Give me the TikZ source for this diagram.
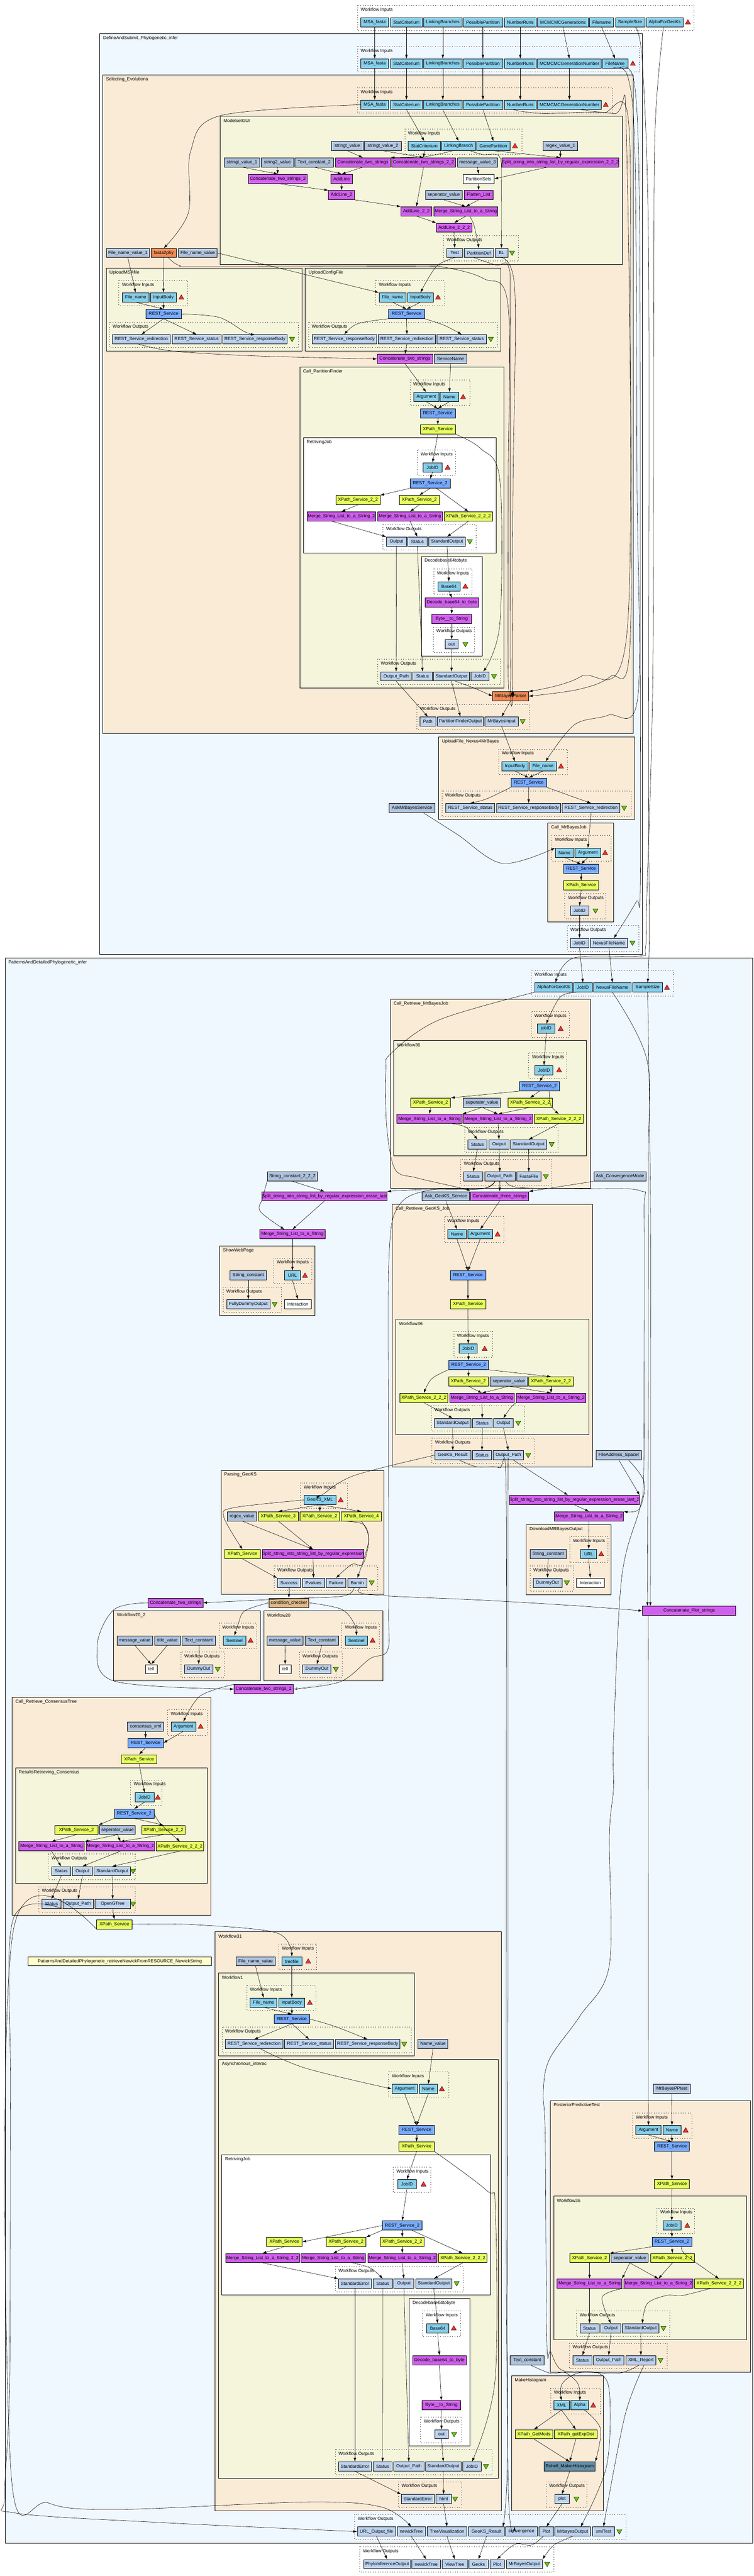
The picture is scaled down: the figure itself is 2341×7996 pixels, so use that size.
\documentclass[tikz,border=0pt]{standalone}
\usepackage{fontspec}
\setmainfont{Liberation Sans}
\usetikzlibrary{arrows.meta}
\definecolor{cwi}{HTML}{87CEEB}
\definecolor{cwo}{HTML}{BCD2EE}
\definecolor{crs}{HTML}{77AAFF}
\definecolor{cxp}{HTML}{E6FF5E}
\definecolor{cbs}{HTML}{D15FEE}
\definecolor{ccn}{HTML}{B0C4DE}
\definecolor{ctl}{HTML}{EE8A55}
\definecolor{ccc}{HTML}{DEB887}
\definecolor{crh}{HTML}{648FAA}
\definecolor{cly}{HTML}{FFFFCC}
\definecolor{cab}{HTML}{F0F8FF}
\definecolor{caw}{HTML}{FAEBD7}
\definecolor{cbe}{HTML}{F5F5DC}
\definecolor{tred}{HTML}{FF3030}
\definecolor{tgrn}{HTML}{66CD00}
\tikzset{
 wfbox/.style={draw=black,line width=1.2pt,inner sep=0pt,minimum height=28.5pt,font=\fontsize{14}{16}\selectfont,anchor=center},
 wi/.style={fill=cwi}, wo/.style={fill=cwo}, rs/.style={fill=crs}, xp/.style={fill=cxp},
 bs/.style={fill=cbs}, cn/.style={fill=ccn}, ws/.style={fill=white}, tl/.style={fill=ctl},
 cc/.style={fill=ccc}, rh/.style={fill=crh}, ly/.style={fill=cly},
 ttl/.style={anchor=west,inner sep=0pt,font=\fontsize{14}{16}\selectfont},
 clb/.style={draw=black,line width=1.2pt},
 pbx/.style={draw=black,line width=1.1pt,dash pattern=on 1.5pt off 6pt},
 e/.style={draw=black,line width=0.9pt,-{Latex[length=12pt,width=8pt]}},
 g/.style={draw=black!25,line width=1pt,-{Latex[length=10pt,width=7pt]}}
}
\newcounter{tk}
\newcommand{\nd}[6]{\pgfmathsetmacro\ndcx{(#2+#3)/2}\pgfmathsetmacro\ndw{#3-#2}\node[wfbox,#5,minimum width=\ndw pt] (#1) at (\ndcx,#4) {#6};}
\newcommand{\cl}[6]{\stepcounter{tk}\path[clb,fill=#5] (#1,#2) rectangle (#3,#4);\node[ttl] (tt\thetk) at (#1+10,#2+14) {#6};}
\newcommand{\pb}[5]{\stepcounter{tk}\path[pbx] (#1,#2) rectangle (#3,#4);\node[ttl] (tt\thetk) at (#1+10,#2+14) {#5};}
\newcommand{\tup}[2]{\filldraw[fill=tred,draw=black,line width=.8pt] (#1-8,#2+6) -- (#1+8,#2+6) -- (#1,#2-8) -- cycle;}
\newcommand{\tdn}[2]{\filldraw[fill=tgrn,draw=black,line width=.8pt] (#1-8,#2-6) -- (#1+8,#2-6) -- (#1,#2+8) -- cycle;}
\newcommand{\ed}[2]{\draw[e] (#1) -- (#2);}
\newcommand{\spl}[1]{\draw[e] plot[smooth,tension=.55] coordinates {#1};}
\begin{document}
\begin{tikzpicture}[x=1pt,y=-1pt]
\useasboundingbox (0,0) rectangle (2341,7996);
\fill[white] (0,0) rectangle (2341,7996);
% ---------- clusters
\pb{1110}{16}{2154}{95}{Workflow Inputs}
\cl{310}{105}{1994}{2962}{cab}{DefineAndSubmit\_Phylogenetic\_infer}
\pb{1110}{144}{1985}{223}{Workflow Inputs}
\cl{319}{233}{1966}{2276}{caw}{Selecting\_Evolutiona}
\pb{1110}{272}{1902}{350}{Workflow Inputs}
\cl{684}{361}{1933}{821}{cbe}{ModelsetGUI}
\pb{1257}{400}{1620}{478}{Workflow Inputs}
\pb{1377}{731}{1610}{810}{Workflow Outputs}
\cl{330}{832}{937}{1089}{cbe}{UploadMSAfile}
\pb{369}{870}{583}{949}{Workflow Inputs}
\pb{340}{1000}{927}{1079}{Workflow Outputs}
\cl{948}{832}{1555}{1089}{cbe}{UploadConfigFile}
\pb{1166}{870}{1381}{949}{Workflow Inputs}
\pb{958}{1000}{1545}{1079}{Workflow Outputs}
\cl{931}{1140}{1565}{2136}{cbe}{Call\_PartitionFinder}
\pb{1273}{1179}{1459}{1258}{Workflow Inputs}
\cl{942}{1358}{1541}{1717}{white}{RetrivingJob}
\pb{1296}{1397}{1414}{1476}{Workflow Inputs}
\pb{1189}{1628}{1478}{1707}{Workflow Outputs}
\cl{1308}{1727}{1497}{2036}{white}{Decodebase64tobyte}
\pb{1347}{1766}{1465}{1845}{Workflow Inputs}
\pb{1345}{1946}{1473}{2025}{Workflow Outputs}
\pb{1172}{2046}{1554}{2125}{Workflow Outputs}
\pb{1294}{2187}{1643}{2265}{Workflow Outputs}
\cl{1362}{2287}{1970}{2544}{caw}{UploadFile\_Nexus4MrBayes}
\pb{1548}{2325}{1762}{2404}{Workflow Inputs}
\pb{1372}{2455}{1960}{2534}{Workflow Outputs}
\cl{1701}{2554}{1906}{2862}{caw}{Call\_MrBayesJob}
\pb{1713}{2593}{1897}{2672}{Workflow Inputs}
\pb{1754}{2773}{1881}{2852}{Workflow Outputs}
\pb{1761}{2873}{1984}{2952}{Workflow Outputs}
\cl{16}{2973}{2337}{7894}{cab}{PatternsAndDetailedPhylogenetic\_infer}
\pb{1650}{3012}{2091}{3091}{Workflow Inputs}
\cl{1212}{3101}{1833}{3688}{caw}{Call\_Retrieve\_MrBayesJob}
\pb{1649}{3140}{1767}{3219}{Workflow Inputs}
\cl{1222}{3229}{1821}{3588}{cbe}{Workflow36}
\pb{1642}{3268}{1760}{3347}{Workflow Inputs}
\pb{1443}{3499}{1733}{3577}{Workflow Outputs}
\pb{1430}{3599}{1714}{3678}{Workflow Outputs}
\cl{682}{3867}{978}{4084}{caw}{ShowWebPage}
\pb{849}{3905}{968}{3984}{Workflow Inputs}
\pb{693}{3995}{873}{4074}{Workflow Outputs}
\cl{1218}{3738}{1839}{4553}{caw}{Call\_Retrieve\_GeoKS\_Job}
\pb{1379}{3777}{1565}{3856}{Workflow Inputs}
\cl{1229}{4095}{1829}{4453}{cbe}{Workflow36}
\pb{1409}{4133}{1529}{4212}{Workflow Inputs}
\pb{1339}{4363}{1628}{4442}{Workflow Outputs}
\pb{1341}{4464}{1660}{4543}{Workflow Outputs}
\cl{1634}{4732}{1898}{4950}{caw}{DownloadMRBayesOutput}
\pb{1769}{4770}{1888}{4849}{Workflow Inputs}
\pb{1646}{4860}{1781}{4939}{Workflow Outputs}
\cl{686}{4564}{1192}{4949}{caw}{Parsing\_GeoKS}
\pb{933}{4603}{1078}{4682}{Workflow Inputs}
\pb{851}{4860}{1173}{4938}{Workflow Outputs}
\cl{353}{5000}{808}{5217}{caw}{Workflow20\_2}
\pb{680}{5038}{797}{5117}{Workflow Inputs}
\pb{562}{5128}{696}{5207}{Workflow Outputs}
\cl{819}{5000}{1189}{5217}{caw}{Workflow20}
\pb{1061}{5038}{1178}{5117}{Workflow Inputs}
\pb{929}{5128}{1063}{5207}{Workflow Outputs}
\cl{38}{5268}{654}{5945}{caw}{Call\_Retrieve\_ConsensusTree}
\pb{520}{5307}{643}{5386}{Workflow Inputs}
\cl{48}{5487}{644}{5845}{cbe}{ResultsRetrieving\_Consensus}
\pb{405}{5525}{502}{5604}{Workflow Inputs}
\pb{150}{5755}{420}{5834}{Workflow Outputs}
\pb{120}{5856}{420}{5935}{Workflow Outputs}
\cl{668}{5996}{1556}{7793}{caw}{Workflow31}
\pb{865}{6034}{982}{6113}{Workflow Inputs}
\cl{679}{6124}{1286}{6381}{cbe}{Workflow1}
\pb{766}{6162}{981}{6241}{Workflow Inputs}
\pb{689}{6292}{1277}{6371}{Workflow Outputs}
\cl{679}{6392}{1547}{7693}{cbe}{Asynchronous\_interac}
\pb{1207}{6431}{1393}{6509}{Workflow Inputs}
\cl{689}{6688}{1523}{7124}{white}{RetrivingJob}
\pb{1221}{6727}{1338}{6805}{Workflow Inputs}
\pb{1041}{7035}{1439}{7113}{Workflow Outputs}
\cl{1271}{7134}{1459}{7592}{white}{Decodebase64tobyte}
\pb{1312}{7173}{1431}{7253}{Workflow Inputs}
\pb{1306}{7502}{1434}{7582}{Workflow Outputs}
\pb{1041}{7603}{1527}{7682}{Workflow Outputs}
\pb{1237}{7703}{1434}{7783}{Workflow Outputs}
\cl{1709}{6520}{2330}{7363}{caw}{PosteriorPredictiveTest}
\pb{1964}{6559}{2149}{6637}{Workflow Inputs}
\cl{1719}{6816}{2318}{7262}{cbe}{Workflow36}
\pb{2040}{6854}{2156}{6933}{Workflow Inputs}
\pb{1790}{7173}{2080}{7253}{Workflow Outputs}
\pb{1768}{7273}{2071}{7352}{Workflow Outputs}
\cl{1588}{7374}{1873}{7793}{caw}{MakeHistogram}
\pb{1710}{7413}{1864}{7492}{Workflow Inputs}
\pb{1695}{7703}{1822}{7783}{Workflow Outputs}
\pb{1101}{7804}{1944}{7883}{Workflow Outputs}
\pb{1117}{7905}{1719}{7984}{Workflow Outputs}
% ---------- top inputs
\nd{ta}{1120}{1207}{69}{wi}{MSA\_fasta}\nd{tb}{1212}{1312}{69}{wi}{StatCriterium}\nd{tc}{1315}{1435}{69}{wi}{LinkingBranches}\nd{td}{1438}{1561}{69}{wi}{PossiblePartition}\nd{te}{1566}{1665}{69}{wi}{NumberRuns}\nd{tf}{1669}{1827}{69}{wi}{MCMCMCGenerations}\nd{tg}{1830}{1906}{69}{wi}{Filename}\nd{th}{1911}{2002}{69}{wi}{SampleSize}\nd{ti}{2007}{2121}{69}{wi}{AlphaForGeoKs}\tup{2136}{69}
\nd{da}{1120}{1207}{197}{wi}{MSA\_fasta}\nd{db}{1212}{1312}{197}{wi}{StatCriterium}\nd{dc}{1315}{1435}{197}{wi}{LinkingBranches}\nd{dd}{1438}{1561}{197}{wi}{PossiblePartition}\nd{de}{1566}{1665}{197}{wi}{NumberRuns}\nd{df}{1669}{1867}{197}{wi}{MCMCMCGenerationNumber}\nd{dg}{1870}{1950}{197}{wi}{FileName}\tup{1965}{197}
\nd{sa}{1120}{1207}{325}{wi}{MSA\_fasta}\nd{sb}{1212}{1312}{325}{wi}{StatCriterium}\nd{sc}{1315}{1435}{325}{wi}{LinkingBranches}\nd{sd}{1438}{1561}{325}{wi}{PossiblePartition}\nd{se}{1566}{1665}{325}{wi}{NumberRuns}\nd{sf}{1669}{1867}{325}{wi}{MCMCMCGenerationNumber}\tup{1881}{325}
% ModelsetGUI
\nd{ma}{1267}{1368}{453}{wi}{StatCriterium}\nd{mb}{1371}{1477}{453}{wi}{LinkingBranch}\nd{mc}{1480}{1584}{453}{wi}{GenePartition}\tup{1599}{453}
\nd{md}{1029}{1128}{453}{cn}{stringt\_value}\nd{me}{1132}{1246}{453}{cn}{stringt\_value\_2}\nd{mf}{1686}{1794}{453}{cn}{regex\_value\_1}
\nd{mg}{696}{807}{504}{cn}{stringt\_value\_1}\nd{mh}{811}{912}{504}{cn}{string2\_value}\nd{mi}{916}{1035}{504}{cn}{Text\_constant\_2}\nd{mj}{1041}{1212}{504}{bs}{Concatenate\_two\_strings}\nd{mk}{1216}{1414}{504}{bs}{Concatenate\_two\_strings\_2\_2}\nd{ml}{1420}{1546}{504}{cn}{message\_value\_3}\nd{mm}{1560}{1920}{504}{bs}{Split\_string\_into\_string\_list\_by\_regular\_expression\_2\_2\_2}
\nd{mn}{771}{954}{555}{bs}{Concatenate\_two\_strings\_2}\nd{mo}{1027}{1095}{555}{bs}{AddLine}\nd{mp}{1438}{1534}{555}{ws}{PartitionSets}
\nd{mq}{1020}{1101}{605.5}{bs}{AddLine\_2}\nd{mr}{1321}{1435}{605.5}{cn}{seperator\_value}\nd{ms}{1441}{1531}{605.5}{bs}{Flatten\_List}
\nd{mt}{1245}{1341}{656}{bs}{AddLine\_2\_2}\nd{mu}{1347}{1546}{656}{bs}{Merge\_String\_List\_to\_a\_String}
\nd{mv}{1355}{1465}{706.5}{bs}{AddLine\_2\_2\_2}
\nd{mw}{1387}{1437}{785}{wo}{Test}\nd{mx}{1441}{1533}{785}{wo}{PartitionDef}\nd{my}{1537}{1577}{785}{wo}{BL}\tdn{1590}{785}
\nd{fa}{330}{464}{785}{cn}{File\_name\_value\_1}\nd{fb}{469}{548}{785}{tl}{fasta2phy}\nd{fc}{554}{674}{785}{cn}{File\_name\_value}
% Upload MSA
\nd{ua}{380}{462}{923}{wi}{File\_name}\nd{ub}{467}{548}{923}{wi}{InputBody}\tup{563}{923}
\nd{uc}{453}{563}{974.5}{rs}{REST\_Service}
\nd{ud}{350}{528}{1053}{wo}{REST\_Service\_redirection}\nd{ue}{534}{687}{1053}{wo}{REST\_Service\_status}\nd{uf}{692}{891}{1053}{wo}{REST\_Service\_responseBody}\tdn{907}{1053}
\nd{va}{1177}{1260}{923}{wi}{File\_name}\nd{vb}{1265}{1346}{923}{wi}{InputBody}\tup{1360}{923}
\nd{vc}{1207}{1318}{974.5}{rs}{REST\_Service}
\nd{vd}{969}{1169}{1053}{wo}{REST\_Service\_responseBody}\nd{ve}{1175}{1352}{1053}{wo}{REST\_Service\_redirection}\nd{vf}{1357}{1510}{1053}{wo}{REST\_Service\_status}\tdn{1524}{1053}
\nd{wa}{1171}{1344}{1114}{bs}{Concatenate\_two\_strings}\nd{wb}{1348}{1450}{1114}{cn}{ServiceName}
% Call_PartitionFinder
\nd{pa}{1284}{1363}{1232}{wi}{Argument}\nd{pb}{1367}{1424}{1232}{wi}{Name}\tup{1438}{1232}
\nd{pc}{1305}{1414}{1283}{rs}{REST\_Service}\nd{pd}{1305}{1414}{1333}{xp}{XPath\_Service}
\nd{ra}{1314}{1372}{1451}{wi}{JobID}\tup{1390}{1451}
\nd{rb}{1273}{1398}{1501}{rs}{REST\_Service\_2}
\nd{rc}{1043}{1180}{1552}{xp}{XPath\_Service\_2\_2}\nd{rd}{1240}{1364}{1552}{xp}{XPath\_Service\_2}
\nd{re}{953}{1167}{1603}{bs}{Merge\_String\_List\_to\_a\_String\_2}\nd{rf}{1172}{1374}{1603}{bs}{Merge\_String\_List\_to\_a\_String}\nd{rg}{1379}{1530}{1603}{xp}{XPath\_Service\_2\_2\_2}
\nd{rh}{1200}{1262}{1681}{wo}{Output}\nd{ri}{1266}{1326}{1681}{wo}{Status}\nd{rj}{1331}{1445}{1681}{wo}{StandardOutput}\tdn{1459}{1681}
\nd{xa}{1360}{1428}{1820}{wi}{Base64}\tup{1445}{1820}
\nd{xb}{1320}{1486}{1870.5}{bs}{Decode\_base64\_to\_byte}\nd{xc}{1341}{1464}{1921}{bs}{Byte\_\_to\_String}
\nd{xd}{1382}{1423}{2000}{wo}{out}\tdn{1445}{2000}
\nd{pe}{1183}{1277}{2099.5}{wo}{Output\_Path}\nd{pf}{1282}{1342}{2099.5}{wo}{Status}\nd{pg}{1346}{1458}{2099.5}{wo}{StandardOutput}\nd{ph}{1462}{1519}{2099.5}{wo}{JobID}\tdn{1534}{2099.5}
\nd{qa}{1530}{1641}{2161}{tl}{MrBayesParser}
\nd{qb}{1304}{1353}{2239.5}{wo}{Path}\nd{qc}{1358}{1501}{2239.5}{wo}{PartitionFinderOutput}\nd{qd}{1506}{1609}{2239.5}{wo}{MrBayesInput}\tdn{1623}{2239.5}
% UploadFile_Nexus
\nd{na}{1559}{1639}{2378.5}{wi}{InputBody}\nd{nb}{1644}{1728}{2378.5}{wi}{File\_name}\tup{1742}{2378.5}
\nd{nc}{1587}{1697}{2429}{rs}{REST\_Service}
\nd{nd}{1384}{1536}{2508}{wo}{REST\_Service\_status}\nd{ne}{1542}{1741}{2508}{wo}{REST\_Service\_responseBody}\nd{nf}{1746}{1925}{2508}{wo}{REST\_Service\_redirection}\tdn{1938}{2508}
\nd{ng}{1208}{1351}{2508}{cn}{AskMrBayesService}
\nd{ja}{1724}{1782}{2647}{wi}{Name}\nd{jb}{1786}{1865}{2647}{wi}{Argument}\tup{1879}{2647}
\nd{jc}{1750}{1859}{2697}{rs}{REST\_Service}\nd{jd}{1750}{1859}{2748}{xp}{XPath\_Service}
\nd{je}{1771}{1828}{2827}{wo}{JobID}\tdn{1849}{2827}
\nd{oa}{1771}{1828}{2927}{wo}{JobID}\nd{ob}{1833}{1949}{2927}{wo}{NexusFileName}\tdn{1964}{2927}
% second top cluster
\nd{ia}{1661}{1777}{3065}{wi}{AlphaForGeoKS}\nd{ib}{1781}{1839}{3065}{wi}{JobID}\nd{ic}{1843}{1960}{3065}{wi}{NexusFileName}\nd{id}{1965}{2057}{3065}{wi}{SampleSize}\tup{2071}{3065}
\nd{ka}{1669}{1723}{3193}{wi}{jobID}\tup{1741}{3193}
\nd{kb}{1661}{1717}{3321.5}{wi}{JobID}\tup{1736}{3321.5}
\nd{kc}{1613}{1737}{3372}{rs}{REST\_Service\_2}
\nd{kd}{1275}{1399}{3422.5}{xp}{XPath\_Service\_2}\nd{ke}{1439}{1554}{3422.5}{cn}{seperator\_value}\nd{kf}{1577}{1715}{3422.5}{xp}{XPath\_Service\_2\_2}
\nd{kg}{1232}{1435}{3473}{bs}{Merge\_String\_List\_to\_a\_String}\nd{kh}{1439}{1654}{3473}{bs}{Merge\_String\_List\_to\_a\_String\_2}\nd{ki}{1659}{1811}{3473}{xp}{XPath\_Service\_2\_2\_2}
\nd{kj}{1453}{1512}{3552}{wo}{Status}\nd{kk}{1518}{1581}{3552}{wo}{Output}\nd{kl}{1585}{1698}{3552}{wo}{StandardOutput}\tdn{1713}{3552}
\nd{km}{1440}{1499}{3652}{wo}{Status}\nd{kn}{1505}{1599}{3652}{wo}{Output\_Path}\nd{ko}{1604}{1680}{3652}{wo}{FastaFile}\tdn{1695}{3652}
\nd{la}{830}{986}{3652}{cn}{String\_constant\_2\_2\_2}\nd{lb}{1844}{2006}{3652}{cn}{Ask\_ConvergenceMode}
\nd{lc}{815}{1200}{3713}{bs}{Split\_string\_into\_string\_list\_by\_regular\_expression\_erase\_last}\nd{ld}{1311}{1458}{3713}{cn}{Ask\_GeoKS\_Service}\nd{le}{1461}{1642}{3713}{bs}{Concatenate\_three\_strings}
\nd{lf}{807}{1009}{3831}{bs}{Merge\_String\_List\_to\_a\_String}
\nd{lg}{883}{933}{3959}{wi}{URL}\tup{947}{3959}\nd{lh}{714}{828}{3959}{cn}{String\_constant}
\nd{li}{704}{838}{4048}{wo}{FullyDummyOutput}\tdn{853}{4048}\nd{lj}{883}{967}{4048}{ws}{Interaction}
% GeoKS job
\nd{ga}{1390}{1448}{3831}{wi}{Name}\nd{gb}{1452}{1530}{3831}{wi}{Argument}\tup{1545}{3831}
\nd{gc}{1398}{1508}{3959}{rs}{REST\_Service}\nd{gd}{1398}{1508}{4048}{xp}{XPath\_Service}
\nd{ge}{1426}{1482}{4186}{wi}{JobID}\tup{1505}{4186}
\nd{gf}{1393}{1517}{4237}{rs}{REST\_Service\_2}
\nd{gg}{1393}{1516}{4288}{xp}{XPath\_Service\_2}\nd{gh}{1522}{1638}{4288}{cn}{seperator\_value}\nd{gi}{1642}{1780}{4288}{xp}{XPath\_Service\_2\_2}
\nd{gj}{1241}{1391}{4339}{xp}{XPath\_Service\_2\_2\_2}\nd{gk}{1396}{1597}{4339}{bs}{Merge\_String\_List\_to\_a\_String}\nd{gl}{1603}{1819}{4339}{bs}{Merge\_String\_List\_to\_a\_String\_2}
\nd{gm}{1349}{1462}{4417}{wo}{StandardOutput}\nd{gn}{1467}{1528}{4417}{wo}{Status}\nd{go}{1532}{1594}{4417}{wo}{Output}\tdn{1609}{4417}
\nd{gp}{1350}{1462}{4517}{wo}{GeoKS\_Result}\nd{gq}{1467}{1526}{4517}{wo}{Status}\nd{gr}{1531}{1626}{4517}{wo}{Output\_Path}\tdn{1640}{4517}
\nd{hs}{1851}{1992}{4517}{cn}{FileAddress\_Spacer}
\nd{ht}{1584}{1983}{4656}{bs}{Split\_string\_into\_string\_list\_by\_regular\_expression\_erase\_last\_2}
\nd{hu}{1722}{1936}{4706.5}{bs}{Merge\_String\_List\_to\_a\_String\_2}
\nd{hv}{1803}{1853}{4823.5}{wi}{URL}\tup{1867}{4823.5}\nd{hw}{1646}{1758}{4823.5}{cn}{String\_constant}
\nd{hx}{1655}{1745}{4913}{wo}{DummyOut}\tdn{1760}{4913}\nd{hy}{1790}{1876}{4913}{ws}{Interaction}
\nd{hz}{1995}{2285}{5000}{bs}{Concatenate\_Plot\_strings}
% Parsing GeoKS
\nd{ba}{944}{1043}{4656}{wi}{GeoKS\_XML}\tup{1058}{4656}
\nd{bb}{706}{797}{4706.5}{cn}{regex\_value}\nd{bc}{802}{926}{4706.5}{xp}{XPath\_Service\_3}\nd{bd}{931}{1055}{4706.5}{xp}{XPath\_Service\_2}\nd{be}{1060}{1184}{4706.5}{xp}{XPath\_Service\_4}
\nd{bf}{698}{808}{4824}{xp}{XPath\_Service}\nd{bg}{814}{1130}{4824}{bs}{Split\_string\_into\_string\_list\_by\_regular\_expression}
\nd{bh}{861}{933}{4913}{wo}{Success}\nd{bi}{939}{1008}{4913}{wo}{Pvalues}\nd{bj}{1013}{1074}{4913}{wo}{Failure}\nd{bk}{1080}{1139}{4913}{wo}{Burnin}\tdn{1154}{4913}
\nd{bl}{460}{630}{4975}{bs}{Concatenate\_two\_strings}\nd{bm}{835}{959}{4975}{cc}{condition\_checker}
% Workflow20
\nd{ya}{693}{763}{5092}{wi}{Sentinel}\tup{778}{5092}\nd{yb}{363}{474}{5092}{cn}{message\_value}\nd{yc}{480}{560}{5092}{cn}{title\_value}\nd{yd}{565}{669}{5092}{cn}{Text\_constant}
\nd{ye}{573}{661}{5181}{wo}{DummyOut}\tdn{676}{5181}\nd{yf}{451}{488}{5181}{ws}{tell}
\nd{za}{1072}{1141}{5092}{wi}{Sentinel}\tup{1157}{5092}\nd{zb}{829}{941}{5092}{cn}{message\_value}\nd{zc}{947}{1051}{5092}{cn}{Text\_constant}
\nd{zd}{940}{1028}{5181}{wo}{DummyOut}\tdn{1043}{5181}\nd{ze}{867}{904}{5181}{ws}{tell}
\nd{zf}{727}{910}{5243}{bs}{Concatenate\_two\_strings\_2}
\coordinate (zg) at (1043,5190);
% Consensus
\nd{ca}{396}{508}{5359}{cn}{consensus\_xml}\nd{cb}{531}{608}{5359}{wi}{Argument}\tup{623}{5359}
\nd{cc}{397}{507}{5410}{rs}{REST\_Service}\nd{cd}{377}{487}{5461}{xp}{XPath\_Service}
\nd{ce}{420}{478}{5579}{wi}{JobID}\tup{490}{5579}
\nd{cf}{355}{478}{5629.5}{rs}{REST\_Service\_2}
\nd{cg}{170}{305}{5680}{xp}{XPath\_Service\_2}\nd{ch}{310}{420}{5680}{cn}{seperator\_value}\nd{ci}{440}{575}{5680}{xp}{XPath\_Service\_2\_2}
\nd{cj}{58}{262}{5731}{bs}{Merge\_String\_List\_to\_a\_String}\nd{ck}{268}{480}{5731}{bs}{Merge\_String\_List\_to\_a\_String\_2}\nd{cl}{485}{633}{5731}{xp}{XPath\_Service\_2\_2\_2}
\nd{cm}{160}{220}{5808}{wo}{Status}\nd{cn}{225}{287}{5808}{wo}{Output}\nd{co}{292}{405}{5808}{wo}{StandardOutput}\tdn{413}{5808}
\nd{cp}{130}{190}{5910}{wo}{Status}\nd{cq}{195}{290}{5910}{wo}{Output\_Path}\nd{cr}{295}{405}{5910}{wo}{OpenGTree}\tdn{413}{5910}
\nd{cs}{300}{410}{5973}{xp}{XPath\_Service}
\nd{ct}{87}{657}{6088}{ly}{PatternsAndDetailedPhylogenetic\_retrieveNewickFromRESOURCE\_NewickString}
% Workflow31
\nd{aa}{875}{937}{6088}{wi}{treefile}\tup{957}{6088}\nd{ab}{733}{854}{6088}{cn}{File\_name\_value}
\nd{ac}{777}{860}{6216}{wi}{File\_name}\nd{ad}{866}{946}{6216}{wi}{inputBody}\tup{962}{6216}
\nd{ae}{852}{961}{6267}{rs}{REST\_Service}
\nd{af}{700}{878}{6345}{wo}{REST\_Service\_redirection}\nd{ag}{884}{1036}{6345}{wo}{REST\_Service\_status}\nd{ah}{1042}{1241}{6345}{wo}{REST\_Service\_responseBody}\tdn{1255}{6345}
\nd{ai}{1298}{1391}{6345}{cn}{Name\_value}
\nd{aj}{1217}{1296}{6484}{wi}{Argument}\nd{ak}{1302}{1358}{6484}{wi}{Name}\tup{1372}{6484}
\nd{al}{1239}{1348}{6612}{rs}{REST\_Service}\nd{am}{1239}{1348}{6663}{xp}{XPath\_Service}
\nd{an}{1235}{1292}{6780}{wi}{JobID}\tup{1315}{6780}
\nd{ao}{1187}{1311}{6908}{rs}{REST\_Service\_2}
\nd{ap}{828}{938}{6959}{xp}{XPath\_Service}\nd{aq}{1013}{1136}{6959}{xp}{XPath\_Service\_2}\nd{ar}{1181}{1317}{6959}{xp}{XPath\_Service\_2\_2}
\nd{as}{701}{929}{7009}{bs}{Merge\_String\_List\_to\_a\_String\_2\_2}\nd{at}{934}{1135}{7009}{bs}{Merge\_String\_List\_to\_a\_String}\nd{au}{1142}{1356}{7009}{bs}{Merge\_String\_List\_to\_a\_String\_2}\nd{av}{1362}{1512}{7009}{xp}{XPath\_Service\_2\_2\_2}
\nd{aw}{1051}{1153}{7088}{wo}{StandardError}\nd{ax}{1158}{1219}{7088}{wo}{Status}\nd{ay}{1223}{1285}{7088}{wo}{Output}\nd{az}{1291}{1403}{7088}{wo}{StandardOutput}\tdn{1418}{7088}
\nd{ea}{1325}{1393}{7227}{wi}{Base64}\tup{1409}{7227}
\nd{eb}{1281}{1448}{7326}{bs}{Decode\_base64\_to\_byte}\nd{ec}{1310}{1431}{7466}{bs}{Byte\_\_to\_String}
\nd{ed}{1350}{1392}{7556}{wo}{out}\tdn{1410}{7556}
\nd{ee}{1051}{1153}{7656}{wo}{StandardError}\nd{ef}{1158}{1218}{7656}{wo}{Status}\nd{eg}{1222}{1317}{7656}{wo}{Output\_Path}\nd{eh}{1321}{1432}{7656}{wo}{StandardOutput}\nd{ei}{1437}{1494}{7656}{wo}{JobID}\tdn{1509}{7656}
\nd{ej}{1246}{1348}{7757}{wo}{StandardError}\nd{ek}{1354}{1401}{7757}{wo}{html}\tdn{1413}{7757}
% Posterior predictive
\nd{sg}{2028}{2144}{6484}{cn}{MrBayesPPtest}
\nd{si}{1974}{2053}{6612}{wi}{Argument}\nd{sj}{2058}{2115}{6612}{wi}{Name}\tup{2129}{6612}
\nd{sk}{2032}{2141}{6663}{rs}{REST\_Service}\nd{sl}{2032}{2141}{6780}{xp}{XPath\_Service}
\nd{sm}{2058}{2114}{6908}{wi}{JobID}\tup{2134}{6908}
\nd{sn}{2025}{2148}{6959}{rs}{REST\_Service\_2}
\nd{so}{1769}{1892}{7009}{xp}{XPath\_Service\_2}\nd{sp}{1898}{2013}{7009}{cn}{seperator\_value}\nd{sq}{2020}{2156}{7009}{xp}{XPath\_Service\_2\_2}
\nd{sr}{1730}{1931}{7088}{bs}{Merge\_String\_List\_to\_a\_String}\nd{ss}{1937}{2152}{7088}{bs}{Merge\_String\_List\_to\_a\_String\_2}\nd{st}{2157}{2308}{7088}{xp}{XPath\_Service\_2\_2\_2}
\nd{su}{1801}{1860}{7227}{wo}{Status}\nd{sv}{1866}{1928}{7227}{wo}{Output}\nd{sw}{1933}{2046}{7227}{wo}{StandardOutput}\tdn{2060}{7227}
\nd{sx}{1779}{1838}{7326}{wo}{Status}\nd{sy}{1843}{1937}{7326}{wo}{Output\_Path}\nd{sz}{1943}{2037}{7326}{wo}{XML\_Report}\tdn{2051}{7326}
\nd{ha}{1584}{1690}{7326}{cn}{Text\_constant}
\nd{hb}{1719}{1768}{7466}{wi}{XML}\nd{hc}{1773}{1827}{7466}{wi}{Alpha}\tup{1842}{7466}
\nd{hd}{1599}{1717}{7556}{xp}{XPath\_GetMods}\nd{he}{1722}{1854}{7556}{xp}{XPath\_getExpDist}
\nd{hf}{1690}{1848}{7656}{rh}{Rshell\_Make-Histogram}
\nd{hg}{1723}{1767}{7757}{wo}{plot}\tdn{1790}{7757}
% final outputs
\nd{oc}{1110}{1228}{7858}{wo}{URL\_Output\_file}\nd{od}{1233}{1321}{7858}{wo}{newickTree}\nd{oe}{1326}{1450}{7858}{wo}{TreeVisualization}\nd{of}{1455}{1566}{7858}{wo}{GeoKS\_Result}\nd{og}{1570}{1668}{7858}{wo}{convergence}\nd{oh}{1674}{1719}{7858}{wo}{Plot}\nd{oi}{1723}{1833}{7858}{wo}{MrbayesOutput}\nd{oj}{1839}{1909}{7858}{wo}{xmlTest}\tdn{1923}{7858}
\nd{fi}{1129}{1275}{7959}{wo}{PhyloInferenceOutput}\nd{fj}{1279}{1368}{7959}{wo}{newickTree}\nd{fk}{1372}{1452}{7959}{wo}{ViewTree}\nd{fl}{1456}{1516}{7959}{wo}{Geoks}\nd{fm}{1521}{1566}{7959}{wo}{Plot}\nd{fn}{1572}{1684}{7959}{wo}{MrBayesOutput}\tdn{1699}{7959}
% ---------- edges
\ed{ta.south}{da.north}\ed{tb.south}{db.north}\ed{tc.south}{dc.north}\ed{td.south}{dd.north}\ed{te.south}{de.north}\ed{tf.south}{df.north}\ed{tg.south}{dg.north}
\ed{da.south}{sa.north}\ed{db.south}{sb.north}\ed{dc.south}{sc.north}\ed{dd.south}{sd.north}\ed{de.south}{se.north}\ed{df.south}{sf.north}
\spl{([xshift=16pt]th.south) (1995,200) (2014,800) (2014,2400) (2016,2900) (id.north)}
\spl{([xshift=-4pt]ti.south) (2034,400) (2030,1000) (2027,2100) (2008,2800) (2004,2945) (1984,2968) (1780,2974) ([xshift=6pt]ia.north)}
\spl{([xshift=-8pt]dg.south) (1950,240) (1972,500) (1978,1500) (1980,2167) (1888,2220) (1783,2250) ([xshift=8pt]nb.north)}
\spl{([xshift=12pt]dg.south) (1970,260) (1986,700) (1988,2000) (1988,2756) (1975,2800) ([xshift=15pt]ob.north)}
\spl{(sa.west) (684,359) (592,469) (585,660) (fb.north)}
\spl{([xshift=-25pt]se.south) (1680,352) (1905,353) (1945,420) (1948,1950) (1803,2100) (qa.north east)}
\spl{([xshift=30pt]sf.south) (1875,350) (1950,362) (1957,1000) (1956,2003) (1895,2100) (1796,2140) (qa.east)}
\ed{sb.south}{ma.north}\ed{sc.south}{mb.north}\ed{sd.south}{mc.north}
\ed{md.south}{mj.north}\ed{me.south}{mk.north}\ed{ma.south}{mk.north}
\spl{([xshift=-18pt]mb.south) (1320,486) (mj.north east)}
\spl{([xshift=35pt]mb.south) (1500,480) (1552,488) (1557,600) (my.north)}
\ed{mc.south}{mm.north}\ed{mf.south}{mm.north}
\ed{mg.south}{mn.north}\ed{mh.south}{mn.north}\ed{mi.south}{mo.north}\ed{mj.south}{mo.north}
\ed{ml.south}{mp.north}\draw[e] ([xshift=-40pt]mm.south) -- (mp.east);
\ed{mn.south}{mq.north west}\ed{mo.south}{mq.north}\ed{mp.south}{ms.north}
\ed{mq.south east}{mt.north west}\ed{mk.south}{mt.north}\ed{mr.south}{mu.north}\ed{ms.south}{mu.north}
\ed{mt.south}{mv.north west}\ed{mu.south}{mv.north}
\spl{([xshift=12pt]mu.south) (1472,700) (mx.north)}
\ed{mv.south}{mw.north}
\ed{fa.south}{ua.north}\ed{fb.south}{ub.north}\draw[e] (fc.east) -- (va.north west);
\spl{(mw.south) (1355,827) (vb.north)}
\spl{([xshift=14pt]fb.south) (557,824) (628,827) (1284,826) (1382,830) (1502,865) (1577,945) (1578,1500) (1578,2100) ([xshift=5pt]qa.north)}
\spl{([xshift=-15pt]mx.south) (1541,823) (1579,828) (1584,1000) (1585,2100) ([xshift=7pt]qa.north)}
\spl{([xshift=-10pt]my.south) (1598,892) (1593,1500) (1590,2100) ([xshift=9pt]qa.north)}
\ed{ua.south}{uc.north}\ed{ub.south}{uc.north}\ed{uc.south}{ud.north}\ed{uc.south}{ue.north}
\spl{(uc.east) (680,985) (760,1030) (uf.north)}
\spl{([xshift=-10pt]ud.south) (540,1090) (800,1105) (wa.west)}
\ed{va.south}{vc.north}\ed{vb.south}{vc.north}
\spl{(vc.south west) (1110,1005) (vd.north)}\ed{vc.south}{ve.north}\spl{(vc.south east) (1380,1010) (vf.north)}
\ed{ve.south}{wa.north}
\ed{wa.south}{pa.north}\ed{wb.south}{pb.north}\ed{pa.south}{pc.north}\ed{pb.south}{pc.north}\ed{pc.south}{pd.north}
\ed{pd.south}{ra.north}
\spl{(pd.south east) (1492,1392) (1552,1489) (1552,1936) ([xshift=10pt]ph.north)}
\ed{ra.south}{rb.north}\draw[e] (rb.south west) -- (rc.north east);\ed{rb.south}{rd.north}\draw[e] ([xshift=20pt]rb.south) -- (rg.north);
\ed{rc.south}{re.north}\ed{rd.south}{rf.north}
\draw[e] ([xshift=-30pt]re.south) -- (rh.north west);\ed{rf.south}{ri.north}\ed{rg.south}{rj.north}
\ed{rh.south}{pe.north}\ed{ri.south}{pf.north}\ed{rj.south}{xa.north}\ed{xa.south}{xb.north}\ed{xb.south}{xc.north}\ed{xc.south}{xd.north}\ed{xd.south}{pg.north}
\ed{pe.south}{qb.north}\ed{pg.south}{qc.north}
\spl{([xshift=12pt]pg.south) (1470,2135) (qa.west)}
\ed{qa.south}{qd.north}\ed{qd.south}{na.north}
\ed{na.south}{nc.north}\ed{nb.south}{nc.north}
\spl{(nc.south west) (1510,2480) (nd.north)}\ed{nc.south}{ne.north}\spl{(nc.south east) (1770,2470) (nf.north)}
\ed{nf.south}{jb.north}
\spl{([xshift=35pt]ng.south) (1420,2590) (1560,2680) (ja.north west)}
\ed{ja.south}{jc.north}\ed{jb.south}{jc.north}\ed{jc.south}{jd.north}\ed{jd.south}{je.north}\ed{je.south}{oa.north}
\ed{oa.south}{ib.north}\ed{ob.south}{ic.north}
% second cluster
\spl{(ia.south west) (1363,3166) (1215,3269) (1198,3322) (1201,3500) (1227,3630) (1294,3656) (1428,3687) (le.north west)}
\spl{([xshift=-18pt]ib.south) (1739,3095) (ka.north)}
\ed{ka.south}{kb.north}\ed{kb.south}{kc.north}
\spl{(kc.south west) (1500,3398) (kd.north east)}\ed{kc.south}{kf.north}\spl{([xshift=30pt]kc.south) (1710,3430) (ki.north)}
\ed{kd.south}{kg.north}\ed{ke.south}{kg.north east}\ed{ke.south}{kh.north}\ed{kf.south}{kh.north}
\spl{([xshift=70pt]kg.south) (1447,3499) (kj.north)}\ed{kh.south}{kk.north}\ed{ki.south}{kl.north}
\ed{kj.south}{km.north}\ed{kk.south}{kn.north}\ed{kl.south}{ko.north}
\spl{([xshift=-15pt]kn.south) (1496,3690) (1300,3693) (lc.north east)}
\spl{([xshift=-15pt]kn.south) (1496,3690) (1340,3693) (1240,3740) (1208,3900) (1207,4500) (1207,5000) (1203,5123) (1148,5149) (1057,5220) (zf.east)}
\ed{kn.south}{le.north}
\spl{([xshift=18pt]kn.south) (1610,3686) (1800,3690) (1988,3696) (2000,3768) (2000,4300) (1998,4600) (1986,4684) (1930,4900) (1905,5400) (1905,5550) (1892,5700) (1892,6100) (1802,6256) (1707,6390) (1687,6493) (1693,6636) (1698,7270) (1710,7300) (1747,7358) (1860,7367) (1893,7434) (1883,7657) ([xshift=25pt]oi.north)}
\spl{(ic.south) (2009,3291) (2013,3600) (2013,4300) (2011,4800) ([xshift=16pt]hz.north west)}
\spl{(id.south) (2016,3400) (2020,3800) (2020,4300) (2020,4800) ([xshift=25pt]hz.north west)}
\draw[e] (lb.south west) -- (le.north east);
\ed{la.south}{lc.north}
\spl{(la.south west) (815,3720) (808,3760) ([xshift=-25pt]lf.north)}
\ed{lc.south}{lf.north}
\ed{lf.south}{lg.north}\ed{lh.south}{li.north}\ed{lg.south}{lj.north}
\ed{ld.south}{ga.north}\ed{le.south}{gb.north}\ed{ga.south}{gc.north}\ed{gb.south}{gc.north}\ed{gc.south}{gd.north}\ed{gd.south}{ge.north}\ed{ge.south}{gf.north}
\spl{(gf.south west) (1340,4280) (gj.north)}\ed{gf.south}{gg.north}\draw[e] (gf.south east) -- (gi.north);
\ed{gg.south}{gk.north}\ed{gh.south}{gk.north}\ed{gh.south}{gl.north}\ed{gi.south}{gl.north}
\ed{gj.south}{gm.north}\ed{gk.south}{gn.north}
\spl{(gl.south west) (1585,4370) (go.north)}
\ed{gm.south}{gp.north}\ed{gn.south}{gq.north}\ed{go.south}{gr.north}
\spl{(gp.west) (1100,4580) (1000,4640) (ba.north)}
\spl{([xshift=20pt]gp.south) (1480,4553) (1550,4556) (1571,4600) (1572,5500) (1572,7000) (1575,7657) ([xshift=-5pt]of.north east)}
\spl{(gr.south) (1577,4700) (1577,6000) (1577,7657) ([xshift=-20pt]og.north)}
\draw[e] ([xshift=15pt]gr.south) -- ([xshift=-20pt]ht.north);
\ed{hs.south}{ht.north east}
\spl{([xshift=30pt]hs.south) (2000,4600) (1985,4684) (hu.north east)}
\ed{ht.south}{hu.north}
\ed{hu.south}{hv.north}\ed{hw.south}{hx.north}\ed{hv.south}{hy.north}
\spl{([xshift=18pt]hz.south west) (2013,5500) (2013,6300) (si.north)}
\ed{ba.south}{bc.north}\ed{ba.south}{bd.north}\ed{ba.south}{be.north}
\spl{(ba.west) (725,4680) (695,4709) (bf.north)}
\ed{bb.south}{bg.north}\ed{bc.south}{bg.north}\ed{bg.south}{bi.north}
\draw[e] (bf.south) -- (bh.north west);
\spl{(bd.south east) (1127,4731) (1145,4780) (1127,4855) (1092,4856) (bj.north)}
\spl{(be.south) (1145,4780) (bk.north)}
\ed{bh.south}{bm.north}
\spl{([xshift=-10pt]bk.south) (1067,4954) (900,4962) (bl.east)}
\spl{([xshift=10pt]bk.south) (1148,4950) (1500,4967) (1800,4985) (hz.west)}
\spl{(bm.west) (760,5000) (740,5040) (ya.north)}
\spl{(bm.east) (1060,4995) (1100,5040) (za.north)}
\ed{yb.south}{yf.north}\ed{yc.south}{yf.north}\ed{yd.south}{ye.north}\ed{zb.south}{ze.north}\ed{zc.south}{zd.north}
\spl{(bl.west) (354,4996) (302,5108) (354,5218) (zf.west)}
\draw[g] plot[smooth,tension=.55] coordinates {(zg) (1028,5220) (zf.east)};
\spl{(zf.north west) (622,5264) (cb.north)}
\ed{ca.south}{cc.north}\ed{cb.south}{cc.east}\ed{cc.south}{cd.north}
\ed{cd.south}{ce.north}\ed{ce.south}{cf.north}
\ed{cf.south west}{cg.north east}\ed{cf.south}{ci.north}
\spl{(cf.east) (500,5663) (cl.north)}
\ed{cg.south}{cj.north}\ed{ch.south}{cj.north east}\ed{ch.south}{ck.north}\ed{ci.south}{ck.north}
\ed{cj.south}{cm.north}\ed{ck.south}{cn.north}\ed{cl.south}{co.north}
\ed{cm.south}{cp.north}\ed{cn.south}{cq.north}\ed{co.south}{cr.north}
\ed{cr.south}{cs.north}
\spl{(cq.south west) (40,5960) (33,6500) (30,7400) (15,7746) (45,7800) (500,7830) (oc.west)}
\spl{(cs.south west) (40,6000) (33,7657) (150,7769) (375,7789) (960,7766) (1185,7782) (od.north)}
\spl{(cs.east) (600,5974) (860,6000) (aa.north)}
\ed{ab.south}{ac.north}\ed{aa.south}{ad.north}\ed{ac.south}{ae.north}\ed{ad.south}{ae.north}
\ed{ae.south}{af.north}\ed{ae.south}{ag.north}\spl{(ae.east) (1040,6290) (ah.north)}
\spl{([xshift=20pt]af.south) (950,6420) (aj.west)}
\ed{ai.south}{ak.north}\ed{aj.south}{al.north}\ed{ak.south}{al.north}\ed{al.south}{am.north}\ed{am.south}{an.north}
\spl{(am.south east) (1512,6800) (1538,6857) (1537,7389) (ei.north)}
\ed{an.south}{ao.north}
\draw[e] (ao.west) -- (ap.east);\ed{ao.south west}{aq.north east}\ed{ao.south}{ar.north}\draw[e] ([xshift=30pt]ao.south) -- (av.north);
\ed{ap.south}{as.north}\ed{aq.south}{at.north}\ed{ar.south}{au.north}
\draw[e] (as.south) -- (aw.north west);
\spl{([xshift=60pt]at.south) (1150,7040) (ax.north)}\ed{au.south}{ay.north}\ed{av.south}{az.north}
\ed{aw.south}{ee.north}\ed{ax.south}{ef.north}\ed{ay.south}{eg.north}\ed{az.south}{ea.north}\ed{ea.south}{eb.north}\ed{eb.south}{ec.north}\ed{ec.south}{ed.north}\ed{ed.south}{eh.north}
\ed{ee.south}{ej.north west}\ed{eh.south}{ek.north}\ed{ek.south}{oe.north}
\ed{sg.south}{sj.north}\ed{si.south}{sk.north}\ed{sj.south}{sk.north}\ed{sk.south}{sl.north}\ed{sl.south}{sm.north}\ed{sm.south}{sn.north}
\draw[e] (sn.south west) -- (so.north east);\ed{sn.south}{sq.north}\spl{([xshift=30pt]sn.south) (2130,7000) (st.north)}
\ed{so.south}{sr.north}\ed{sp.south}{sr.north east}\ed{sp.south}{ss.north}\ed{sq.south}{ss.north}
\ed{sr.south}{su.north}\spl{(ss.south west) (1870,7130) (sv.north)}
\spl{([xshift=-25pt]st.south) (2120,7125) (2070,7125) (2010,7150) ([xshift=5pt]sw.north)}
\ed{su.south}{sx.north}\ed{sv.south}{sy.north}\ed{sw.south}{sz.north}
\spl{([xshift=-5pt]sz.south) (1920,7367) (1800,7365) (1745,7400) (hb.north)}
\spl{([xshift=10pt]sz.south) (1940,7500) (oj.north)}
\spl{([xshift=10pt]ha.south) (1710,7367) (1755,7365) (1795,7400) (hc.north)}
\ed{hb.south}{hd.north}\ed{hb.south}{he.north}
\spl{([xshift=15pt]hc.south) (1865,7540) (hf.north east)}
\ed{hd.south}{hf.north}\ed{he.south}{hf.north}\ed{hf.south}{hg.north}\ed{hg.south}{oh.north}
\ed{oc.south}{fi.north}\ed{od.south}{fj.north}\ed{oe.south}{fk.north}\ed{of.south}{fl.north}
\spl{([xshift=-10pt]oh.south) (1650,7900) (1598,7898) (fm.north)}
\spl{(oi.south) (1720,7900) (fn.north east)}
\end{tikzpicture}
\end{document}
